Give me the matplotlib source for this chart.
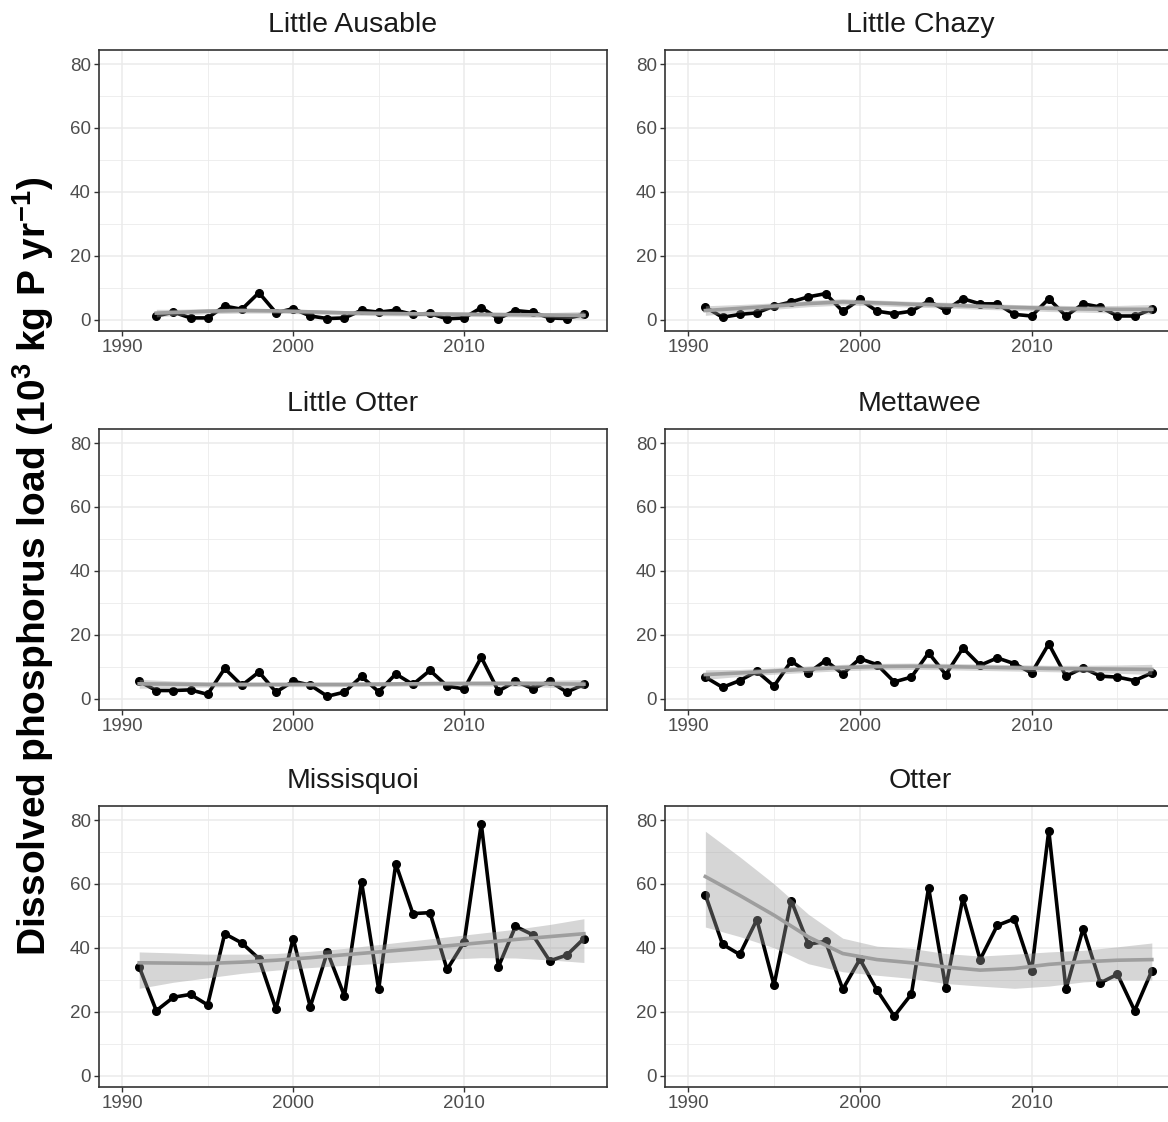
import numpy as np
import matplotlib.pyplot as plt
from matplotlib.ticker import FixedLocator

plt.rcParams['font.family'] = ['Liberation Sans', 'DejaVu Sans']
plt.rcParams['mathtext.fontset'] = 'custom'
plt.rcParams['mathtext.rm'] = 'Liberation Sans:bold'
plt.rcParams['mathtext.default'] = 'rm'

# annual dissolved P loads (10^3 kg P / yr)
years = [1991, 1992, 1993, 1994, 1995, 1996, 1997, 1998, 1999, 2000,
         2001, 2002, 2003, 2004, 2005, 2006, 2007, 2008, 2009, 2010,
         2011, 2012, 2013, 2014, 2015, 2016, 2017]

little_ausable = [1.1, 2.3, 0.5, 0.5, 4.2, 3.2, 8.4, 2.1, 3.4, 1.1,
                  0.3, 0.5, 2.9, 2.3, 2.9, 1.6, 1.9, 0.2, 0.5, 3.7,
                  0.3, 2.8, 2.3, 0.5, 0.3, 1.6]  # starts 1992
little_chazy = [3.9, 0.7, 1.6, 2.1, 4.2, 5.5, 7.1, 8.1, 2.6, 6.3,
                2.6, 1.8, 2.6, 5.8, 2.9, 6.5, 4.9, 4.9, 1.6, 1.1,
                6.5, 1.1, 4.9, 3.9, 1.1, 1.1, 3.2]
little_otter = [5.4, 2.5, 2.5, 2.7, 1.3, 9.4, 4.1, 8.3, 2.0, 5.4,
                4.2, 0.7, 2.0, 6.9, 2.1, 7.7, 4.4, 8.8, 3.9, 3.0,
                12.9, 2.3, 5.4, 3.1, 5.4, 2.0, 4.4]
mettawee = [6.7, 3.5, 5.6, 8.5, 3.9, 11.7, 8.0, 11.9, 7.7, 12.5,
            10.6, 5.2, 6.7, 14.3, 7.5, 15.8, 10.4, 12.7, 10.9, 8.0,
            17.1, 7.0, 9.6, 7.0, 6.7, 5.6, 8.0]
missisquoi = [34.0, 20.3, 24.5, 25.4, 22.1, 44.4, 41.5, 36.6, 20.8, 42.9,
              21.5, 38.7, 24.9, 60.6, 27.0, 66.3, 50.7, 51.0, 33.2, 41.8,
              78.8, 34.0, 46.7, 44.1, 35.9, 37.7, 42.9]
otter = [56.6, 41.1, 37.9, 48.8, 28.3, 54.8, 41.1, 42.0, 27.0, 36.4,
         26.7, 18.6, 25.5, 58.8, 27.5, 55.7, 36.3, 47.0, 49.1, 32.8,
         76.7, 27.0, 46.0, 29.0, 31.7, 20.3, 32.8]

# smoothed trend and its confidence band
sm_years = [1991, 1993, 1995, 1997, 1999, 2001, 2003,
            2005, 2007, 2009, 2011, 2013, 2015, 2017]
sm_years_ausable = [1992, 1993, 1995, 1997, 1999, 2001, 2003,
                    2005, 2007, 2009, 2011, 2013, 2015, 2017]

ausable_fit = [2.0, 2.2, 2.6, 2.8, 2.7, 2.4, 2.1, 1.9, 1.8, 1.7, 1.6, 1.5, 1.4, 1.3]
ausable_lo = [0.8, 1.2, 1.8, 2.0, 2.0, 1.7, 1.4, 1.2, 1.1, 1.0, 0.9, 0.8, 0.6, 0.1]
ausable_hi = [3.2, 3.2, 3.4, 3.6, 3.4, 3.1, 2.8, 2.6, 2.5, 2.4, 2.3, 2.2, 2.2, 2.5]

chazy_fit = [2.8, 3.5, 4.2, 5.0, 5.5, 5.2, 4.8, 4.5, 4.1, 3.8, 3.5, 3.3, 3.2, 3.2]
chazy_lo = [1.3, 2.3, 3.2, 4.0, 4.5, 4.3, 3.9, 3.6, 3.2, 2.9, 2.5, 2.3, 2.0, 1.7]
chazy_hi = [4.3, 4.7, 5.2, 6.0, 6.5, 6.1, 5.7, 5.4, 5.0, 4.7, 4.5, 4.3, 4.4, 4.7]

lotter_fit = [4.6, 4.5, 4.4, 4.4, 4.4, 4.4, 4.4, 4.5, 4.6, 4.7, 4.7, 4.7, 4.6, 4.5]
lotter_lo = [3.2, 3.5, 3.6, 3.7, 3.7, 3.7, 3.7, 3.8, 3.9, 4.0, 3.9, 3.8, 3.5, 3.1]
lotter_hi = [6.0, 5.5, 5.2, 5.1, 5.1, 5.1, 5.1, 5.2, 5.3, 5.4, 5.5, 5.6, 5.7, 5.9]

mett_fit = [7.5, 8.0, 8.6, 9.2, 9.7, 10.0, 10.1, 10.0, 9.8, 9.6, 9.4, 9.3, 9.2, 9.1]
mett_lo = [6.0, 6.9, 7.6, 8.2, 8.7, 9.0, 9.1, 9.0, 8.8, 8.6, 8.4, 8.2, 7.9, 7.5]
mett_hi = [9.0, 9.1, 9.6, 10.2, 10.7, 11.0, 11.1, 11.0, 10.8, 10.6, 10.4, 10.4, 10.5, 10.7]

miss_fit = [35.3, 35.2, 35.1, 35.5, 36.1, 36.9, 37.8, 38.7, 39.6, 40.6, 41.6, 42.6, 43.5, 44.4]
miss_lo = [27.3, 29.2, 30.6, 32.0, 33.0, 33.8, 34.5, 35.1, 35.8, 36.4, 36.9, 36.8, 36.2, 35.4]
miss_hi = [38.7, 38.4, 38.0, 38.0, 38.2, 38.9, 39.8, 41.0, 42.2, 43.4, 44.6, 45.8, 47.3, 49.1]

otter_fit = [62.3, 56.4, 50.2, 43.4, 38.2, 36.3, 35.3, 34.0, 33.0, 33.5, 34.8, 35.6, 36.1, 36.3]
otter_lo = [46.5, 43.5, 40.0, 35.0, 32.5, 31.4, 30.4, 28.8, 28.0, 27.3, 28.0, 29.3, 29.9, 29.9]
otter_hi = [76.5, 68.5, 60.0, 50.5, 43.0, 40.5, 39.8, 38.2, 37.4, 38.0, 38.7, 39.2, 40.3, 41.5]

rivers = ['Little Ausable', 'Little Chazy', 'Little Otter',
          'Mettawee', 'Missisquoi', 'Otter']
series = [(years[1:], little_ausable), (years, little_chazy),
          (years, little_otter), (years, mettawee),
          (years, missisquoi), (years, otter)]
smooths = [(sm_years_ausable, ausable_fit, ausable_lo, ausable_hi),
           (sm_years, chazy_fit, chazy_lo, chazy_hi),
           (sm_years, lotter_fit, lotter_lo, lotter_hi),
           (sm_years, mett_fit, mett_lo, mett_hi),
           (sm_years, miss_fit, miss_lo, miss_hi),
           (sm_years, otter_fit, otter_lo, otter_hi)]

W, H = 1168, 1122
fig = plt.figure(figsize=(W / 100, H / 100), dpi=100)

lefts = [99, 665]
widths = [508, 510]
tops = [50, 429, 806]
ax_h = 281

for i, name in enumerate(rivers):
    r, c = divmod(i, 2)
    xv, yv = series[i]
    sx, sfit, slo, shi = smooths[i]
    ax = fig.add_axes([lefts[c] / W, 1 - (tops[r] + ax_h) / H, widths[c] / W, ax_h / H])
    ax.plot(xv, yv, color='black', lw=2.6, marker='o', ms=5.5, zorder=3)
    # smooth drawn on top of the data, as in the original
    ax.fill_between(sx, slo, shi, color='#999999', alpha=0.4, lw=0, zorder=4)
    ax.plot(sx, sfit, color='#9E9E9E', lw=2.6, zorder=5)

    ax.set_xlim(1988.65, 2018.35)
    ax.set_ylim(-3.6, 84.4)
    ax.set_xticks([1990, 2000, 2010])
    ax.set_yticks([0, 20, 40, 60, 80])
    ax.xaxis.set_minor_locator(FixedLocator([1995, 2005, 2015]))
    ax.yaxis.set_minor_locator(FixedLocator([10, 30, 50, 70]))
    ax.grid(which='major', color='#EBEBEB', lw=1.1, zorder=0)
    ax.grid(which='minor', color='#EBEBEB', lw=0.6, zorder=0)
    ax.set_axisbelow(True)
    ax.tick_params(which='major', length=3.5, width=1.0, color='#333333',
                   labelsize=13.5, labelcolor='#4D4D4D', pad=2.5)
    ax.tick_params(which='minor', length=0)
    for sp in ax.spines.values():
        sp.set_color('#333333')
        sp.set_linewidth(1.2)
    ax.set_title(name, fontsize=20.5, color='#1A1A1A', pad=13)

fig.text(33 / W, 1 - 566 / H,
         'Dissolved phosphorus load (10$^{3}$ kg P yr$^{-1}$)',
         rotation=90, fontsize=28, fontweight='bold', ha='center', va='center')

fig.savefig('out.png', dpi=100)
